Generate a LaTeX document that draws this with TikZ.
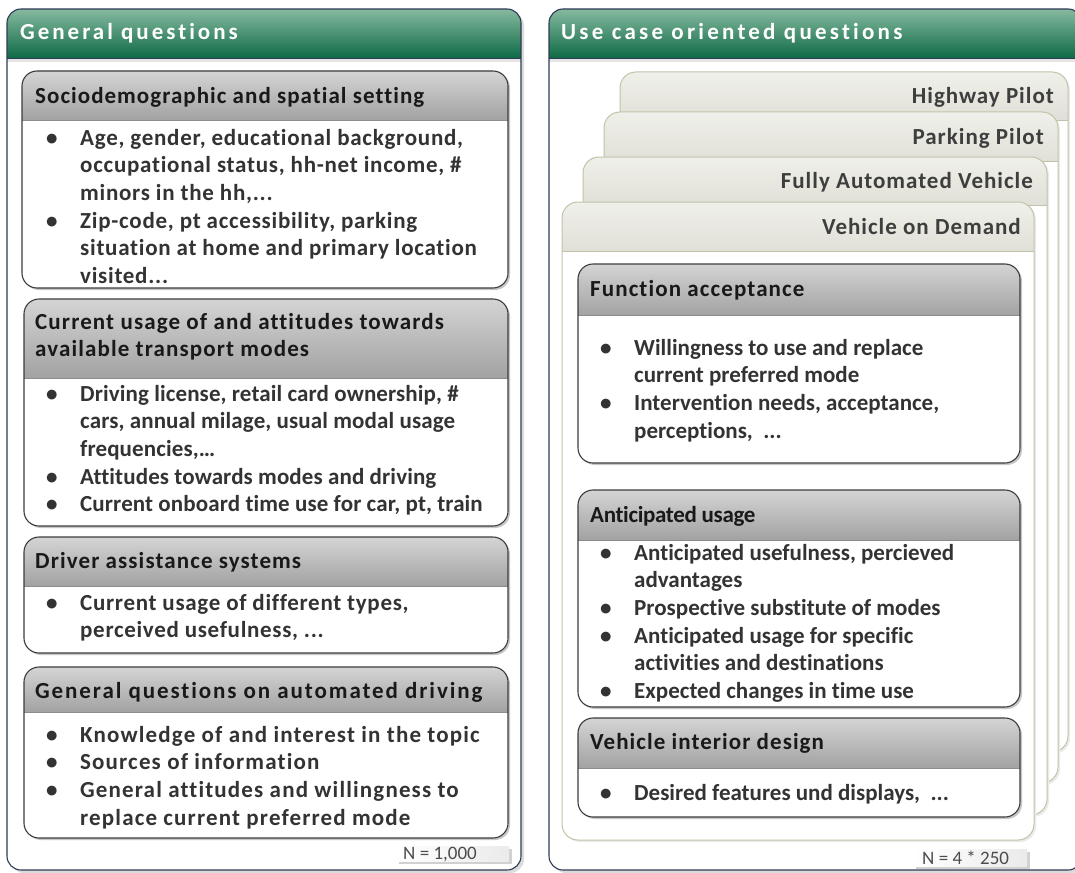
\documentclass[tikz,border=0pt]{standalone}
\usepackage{fontspec}
\setmainfont{Carlito}[Ligatures=NoCommon]
\definecolor{gtop}{HTML}{86B9A0}
\definecolor{gbot}{HTML}{0E6A45}
\definecolor{navy}{HTML}{2E3B56}
\definecolor{htop}{HTML}{D4D4D4}
\definecolor{hbot}{HTML}{A2A2A2}
\definecolor{bord}{HTML}{3C3C3C}
\definecolor{ttop}{HTML}{F0F0EA}
\definecolor{tbot}{HTML}{E0E0D8}
\definecolor{tbord}{HTML}{C2C2A8}
\definecolor{txt}{HTML}{333333}
\definecolor{ttxt}{HTML}{3E3E3E}
\newcommand\bodyfont{\fontsize{23}{27.7}\selectfont\bfseries}
\newcommand\ls[1]{\addfontfeature{LetterSpace=#1}}
\newcommand\itm{\par\hangindent=32pt\hangafter=1\noindent\makebox[32pt][l]{\hspace{-2pt}\textbullet}}
\newcommand\qpanel[4]{%
  \fill[black!14,rounded corners=14pt] (#1+3,#2+3) rectangle (#3+3,#4+3);
  \fill[white,rounded corners=14pt] (#1,#2) rectangle (#3,#4);
  \begin{scope}
    \clip[rounded corners=14pt] (#1,#2) rectangle (#3,#4);
    \shade[top color=gtop,bottom color=gbot] (#1,#2) rectangle (#3,58);
    \fill[black!10] (#1,58) rectangle (#3,62);
  \end{scope}
  \draw[navy,line width=0.9pt] (#1,58) -- (#3,58);
  \draw[navy,line width=1.1pt,rounded corners=14pt] (#1,#2) rectangle (#3,#4);
}
\newcommand\qbox[5]{%
  \fill[black!22,rounded corners=15pt] (#1+2,#2+2) rectangle (#3+2,#4+2);
  \fill[white,rounded corners=15pt] (#1,#2) rectangle (#3,#4);
  \begin{scope}
    \clip[rounded corners=15pt] (#1,#2) rectangle (#3,#4);
    \shade[top color=htop,bottom color=hbot] (#1,#2) rectangle (#3,#5);
  \end{scope}
  \draw[black!45,line width=0.8pt] (#1,#5) -- (#3,#5);
  \draw[bord,line width=1.1pt,rounded corners=15pt] (#1,#2) rectangle (#3,#4);
}
\newcommand\tabpage[5]{%
  \fill[black!8,rounded corners=16pt] (#1+2,#2+2) rectangle (#3+2,#4+2);
  \fill[white,rounded corners=16pt] (#1,#2) rectangle (#3,#4);
  \begin{scope}
    \clip[rounded corners=16pt] (#1,#2) rectangle (#3,#4);
    \shade[top color=ttop,bottom color=tbot] (#1,#2) rectangle (#3,#5);
  \end{scope}
  \draw[tbord,line width=0.9pt] (#1,#5) -- (#3,#5);
  \draw[tbord,line width=1pt,rounded corners=16pt] (#1,#2) rectangle (#3,#4);
}
\begin{document}
\begin{tikzpicture}[x=1pt,y=-1pt,
  head/.style={anchor=base west,inner sep=0,text=white,font=\fontsize{23}{26}\selectfont\bfseries\ls{13}},
  ttl/.style={anchor=base west,inner sep=0,text=black!90,font=\bodyfont},
  body/.style={anchor=base west,inner sep=0,text=txt,font=\bodyfont},
  tabt/.style={anchor=base east,inner sep=0,text=ttxt,font=\bodyfont\ls{4.3}},
  nlab/.style={anchor=base west,inner sep=0,text=black!70,font=\fontsize{19}{22}\selectfont}]
\useasboundingbox (0,0) rectangle (1075,872);
% panels
\qpanel{7}{9}{521}{870}
\qpanel{549}{9}{1082}{870}
\node[head] (hl) at (20,40) {General questions};
\node[head,font=\fontsize{23}{26}\selectfont\bfseries\ls{14}] (hr) at (561,40) {Use case oriented questions};
% left boxes
\qbox{22}{71}{508}{288}{120}
\node[ttl,font=\bodyfont\ls{4.5}] (t1) at (35,104) {Sociodemographic and spatial setting};
\node[body,font=\bodyfont\ls{3.2}] (b1) at (48,145) {\parbox[t]{600pt}{%
\itm Age, gender, educational background,\\occupational status, hh-net income, \#\\minors in the hh,...
\itm Zip-code, pt accessibility, parking\\situation at home and primary location\\visited...}};
\qbox{24}{299}{508}{526}{378}
\node[ttl,font=\bodyfont\ls{4.9}] (t2) at (35,329) {\parbox[t]{600pt}{Current usage of and attitudes towards\\available transport modes}};
\node[body,font=\bodyfont\ls{0.5}] (b2) at (48,401) {\parbox[t]{600pt}{%
\itm Driving license, retail card ownership, \#\\cars, annual milage, usual modal usage\\frequencies,…
\itm Attitudes towards modes and driving
\itm Current onboard time use for car, pt, train}};
\qbox{24}{537}{508}{653}{586}
\node[ttl,font=\bodyfont\ls{4.8}] (t3) at (35,568) {Driver assistance systems};
\node[body,font=\bodyfont\ls{3.0}] (b3) at (48,610) {\parbox[t]{600pt}{%
\itm Current usage of different types,\\perceived usefulness, ...}};
\qbox{24}{667}{508}{838}{712}
\node[ttl,font=\bodyfont\ls{8.3}] (t4) at (35,698) {General questions on automated driving};
\node[body,font=\bodyfont\ls{5.0}] (b4) at (48,742) {\parbox[t]{600pt}{%
\itm Knowledge of and interest in the topic
\itm Sources of information
\itm General attitudes and willingness to\\replace current preferred mode}};
% N label left
\fill[black!18] (399,849) rectangle (512,864);
\shade[left color=white,right color=black!8] (396,846) rectangle (509,861);
\node[nlab] (n1) at (403,859) {N = 1,000};
% tab pages
\tabpage{620}{72}{1068}{752}{120}
\node[tabt] (p1) at (1054,104) {Highway Pilot};
\tabpage{604}{112}{1058}{783}{161}
\node[tabt] (p2) at (1044,144) {Parking Pilot};
\tabpage{583}{157}{1047}{815}{205}
\node[tabt] (p3) at (1033,188) {Fully Automated Vehicle};
\tabpage{562}{202}{1034}{840}{251}
\node[tabt] (p4) at (1021,234) {Vehicle on Demand};
% right boxes
\qbox{578}{264}{1020}{463}{315}
\node[ttl,font=\bodyfont\ls{4.8}] (t5) at (590,296) {Function acceptance};
\node[body] (b5) at (602,355) {\parbox[t]{600pt}{%
\itm Willingness to use and replace\\current preferred mode
\itm Intervention needs, acceptance,\\perceptions,\ \ ...}};
\qbox{578}{490}{1020}{707}{540}
\node[ttl,font=\bodyfont\ls{-1.5}] (t6) at (590,522) {Anticipated usage};
\node[body] (b6) at (602,560) {\parbox[t]{600pt}{%
\itm Anticipated usefulness, percieved\\advantages
\itm Prospective substitute of modes
\itm Anticipated usage for specific\\activities and destinations
\itm Expected changes in time use}};
\qbox{578}{718}{1020}{817}{768}
\node[ttl,font=\bodyfont\ls{4.6}] (t7) at (590,749) {Vehicle interior design};
\node[body] (b7) at (602,800) {\parbox[t]{600pt}{%
\itm Desired features und displays,\ \ ...}};
% N label right
\fill[black!18] (916,852) rectangle (1030,869);
\shade[left color=white,right color=black!8] (913,849) rectangle (1027,866);
\node[nlab] (n2) at (922,864) {N = 4 * 250};
\end{tikzpicture}
\end{document}
